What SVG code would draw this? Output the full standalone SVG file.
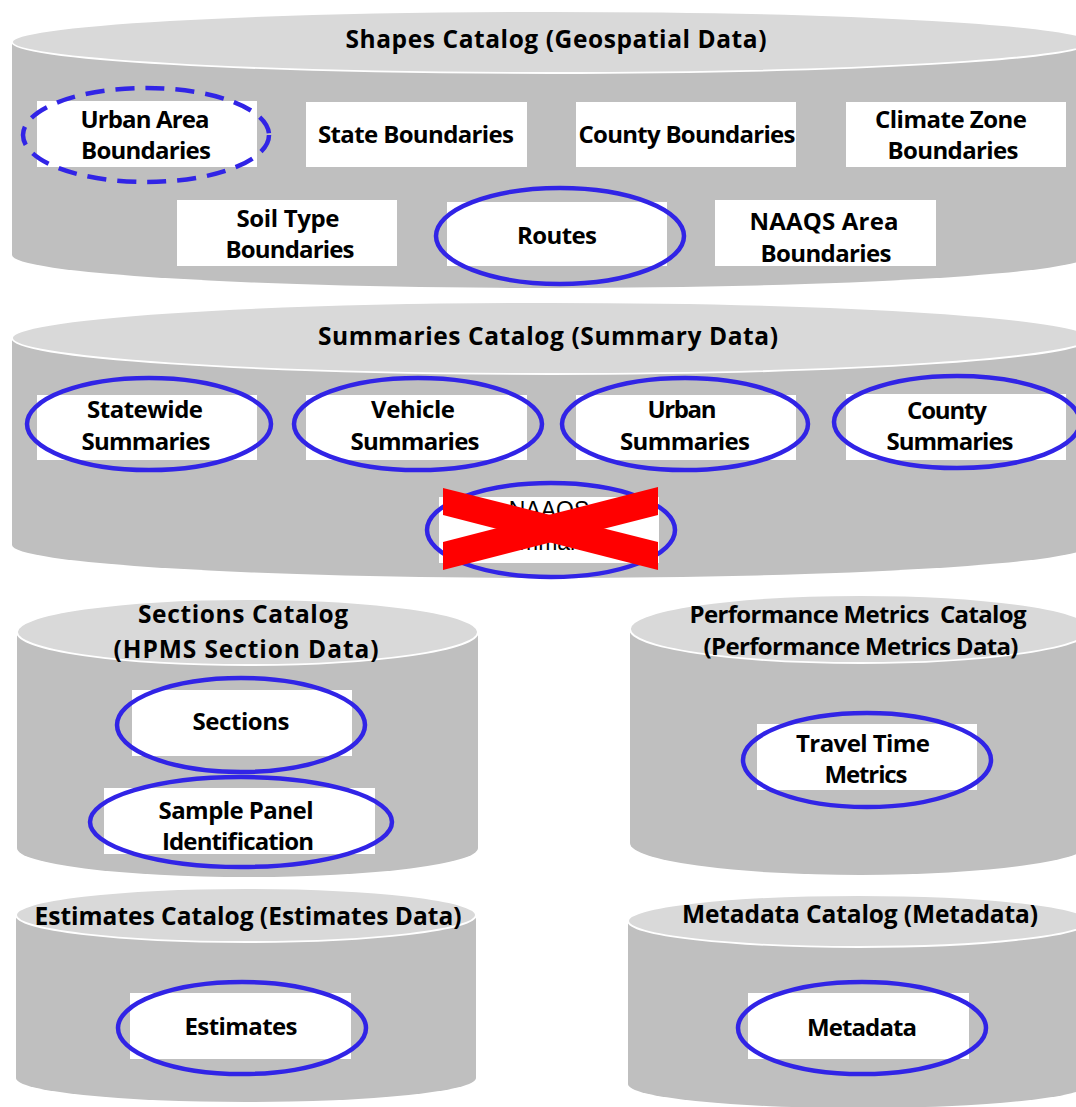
<svg xmlns="http://www.w3.org/2000/svg" width="1076" height="1107" viewBox="0 0 1076 1107">
<style>
.body{fill:#bfbfbf;}
.top{fill:#d9d9d9;stroke:#ffffff;stroke-width:1.8;}
.box{fill:#ffffff;}
.ring{fill:none;stroke:#3124e6;stroke-width:4.5;}
.dash{fill:none;stroke:#3124e6;stroke-width:4.5;stroke-dasharray:19 11;}
text{font-family:"Open Sans","Noto Sans","DejaVu Sans",sans-serif;font-weight:bold;font-size:24px;fill:#000;text-anchor:middle;}
.ttl{font-size:24.5px;}
.thin{font-family:"Liberation Sans",Arial,sans-serif;font-weight:normal;font-size:23px;}
.x{fill:#ff0000;}
</style>
<rect width="1076" height="1107" fill="#ffffff"/>

<g id="shapes-catalog">
<path class="body" d="M12,42 L12,255 A539,33 0 0 0 1090,255 L1090,42 Z"/>
<ellipse class="top" cx="551" cy="42" rx="539" ry="31"/>
<text class="ttl" x="556" y="48" textLength="421">Shapes Catalog (Geospatial Data)</text>
</g>
<g id="urban-area-boundaries">
<rect class="box" x="37" y="101" width="220" height="66"/>
<ellipse class="dash" cx="146" cy="135" rx="123" ry="47"/>
<text x="145" y="128" textLength="129">Urban Area</text>
<text x="146" y="159" textLength="130">Boundaries</text>
</g>
<g id="state-boundaries">
<rect class="box" x="306" y="102" width="221" height="65"/>
<text x="416" y="143" textLength="196">State Boundaries</text>
</g>
<g id="county-boundaries">
<rect class="box" x="576" y="102" width="220" height="65"/>
<text x="687" y="143" textLength="217">County Boundaries</text>
</g>
<g id="climate-zone-boundaries">
<rect class="box" x="846" y="102" width="220" height="65"/>
<text x="951" y="128" textLength="152">Climate Zone</text>
<text x="953" y="159" textLength="131">Boundaries</text>
</g>
<g id="soil-type-boundaries">
<rect class="box" x="177" y="200" width="220" height="66"/>
<text x="288" y="227" textLength="103">Soil Type</text>
<text x="290" y="258" textLength="129">Boundaries</text>
</g>
<g id="routes">
<rect class="box" x="447" y="202" width="220" height="64"/>
<ellipse class="ring" cx="560" cy="236" rx="124" ry="48"/>
<text x="557" y="244" textLength="80">Routes</text>
</g>
<g id="naaqs-area-boundaries">
<rect class="box" x="715" y="200" width="221" height="66"/>
<text x="824" y="230" textLength="149">NAAQS Area</text>
<text x="826" y="262" textLength="131">Boundaries</text>
</g>

<g id="summaries-catalog">
<path class="body" d="M12,338 L12,545 A539,33 0 0 0 1090,545 L1090,338 Z"/>
<ellipse class="top" cx="551" cy="338" rx="539" ry="36"/>
<text class="ttl" x="548" y="345" textLength="460">Summaries Catalog (Summary Data)</text>
</g>
<g id="statewide-summaries">
<rect class="box" x="37" y="395" width="220" height="65"/>
<ellipse class="ring" cx="149" cy="424" rx="122" ry="46"/>
<text x="145" y="418" textLength="116">Statewide</text>
<text x="146" y="450" textLength="129">Summaries</text>
</g>
<g id="vehicle-summaries">
<rect class="box" x="306" y="395" width="221" height="65"/>
<ellipse class="ring" cx="418" cy="424" rx="124" ry="46"/>
<text x="413" y="418" textLength="84">Vehicle</text>
<text x="415" y="450" textLength="129">Summaries</text>
</g>
<g id="urban-summaries">
<rect class="box" x="576" y="395" width="220" height="65"/>
<ellipse class="ring" cx="685" cy="424" rx="123" ry="46"/>
<text x="682" y="418" textLength="69">Urban</text>
<text x="685" y="450" textLength="130">Summaries</text>
</g>
<g id="county-summaries">
<rect class="box" x="846" y="394" width="220" height="66"/>
<ellipse class="ring" cx="957" cy="422" rx="123" ry="46"/>
<text x="947" y="419" textLength="80">County</text>
<text x="950" y="450" textLength="127">Summaries</text>
</g>
<g id="naaqs-summaries">
<rect class="box" x="439" y="497" width="220" height="66"/>
<ellipse class="ring" cx="551" cy="530" rx="124" ry="47"/>
<text class="thin" x="549" y="518">NAAQS</text>
<text class="thin" x="549" y="550">Summaries</text>
<polygon class="x" points="443,488 658,542 658,570 443,515"/>
<polygon class="x" points="443,542 658,487 658,515 443,570"/>
</g>

<g id="sections-catalog">
<path class="body" d="M17,633 L17,848 A230.5,29 0 0 0 478,848 L478,633 Z"/>
<ellipse class="top" cx="247.5" cy="632" rx="230.5" ry="33"/>
<text class="ttl" x="243" y="623" textLength="210">Sections Catalog</text>
<text class="ttl" x="246" y="658" textLength="265">(HPMS Section Data)</text>
</g>
<g id="sections">
<rect class="box" x="132" y="690" width="220" height="66"/>
<ellipse class="ring" cx="241" cy="725" rx="124" ry="47"/>
<text x="241" y="730" textLength="97">Sections</text>
</g>
<g id="sample-panel-identification">
<rect class="box" x="104" y="788" width="271" height="66"/>
<ellipse class="ring" cx="241" cy="822" rx="151" ry="45"/>
<text x="236" y="819" textLength="155">Sample Panel</text>
<text x="238" y="850" textLength="152">Identification</text>
</g>

<g id="performance-metrics-catalog">
<path class="body" d="M630,629 L630,843 A230.5,32 0 0 0 1091,843 L1091,629 Z"/>
<ellipse class="top" cx="860.5" cy="629" rx="230.5" ry="34"/>
<text x="858" y="623" textLength="337" xml:space="preserve">Performance Metrics  Catalog</text>
<text x="861" y="655" textLength="315">(Performance Metrics Data)</text>
</g>
<g id="travel-time-metrics">
<rect class="box" x="757" y="724" width="220" height="66"/>
<ellipse class="ring" cx="867" cy="760" rx="124" ry="47"/>
<text x="863" y="752" textLength="134">Travel Time</text>
<text x="866" y="783" textLength="83">Metrics</text>
</g>

<g id="estimates-catalog">
<path class="body" d="M16,915 L16,1078 A230,24 0 0 0 476,1078 L476,915 Z"/>
<ellipse class="top" cx="246" cy="915" rx="230" ry="27"/>
<text class="ttl" x="248" y="925" textLength="427">Estimates Catalog (Estimates Data)</text>
</g>
<g id="estimates">
<rect class="box" x="130" y="993" width="221" height="66"/>
<ellipse class="ring" cx="242" cy="1028" rx="124" ry="46"/>
<text x="241" y="1035" textLength="113">Estimates</text>
</g>

<g id="metadata-catalog">
<path class="body" d="M628,921 L628,1084 A230.5,24 0 0 0 1089,1084 L1089,921 Z"/>
<ellipse class="top" cx="858.5" cy="921" rx="230.5" ry="26"/>
<text class="ttl" x="860" y="923" textLength="356">Metadata Catalog (Metadata)</text>
</g>
<g id="metadata">
<rect class="box" x="748" y="993" width="221" height="66"/>
<ellipse class="ring" cx="862" cy="1028" rx="124" ry="46"/>
<text x="862" y="1036" textLength="110">Metadata</text>
</g>

<g id="connectors"></g>
</svg>
